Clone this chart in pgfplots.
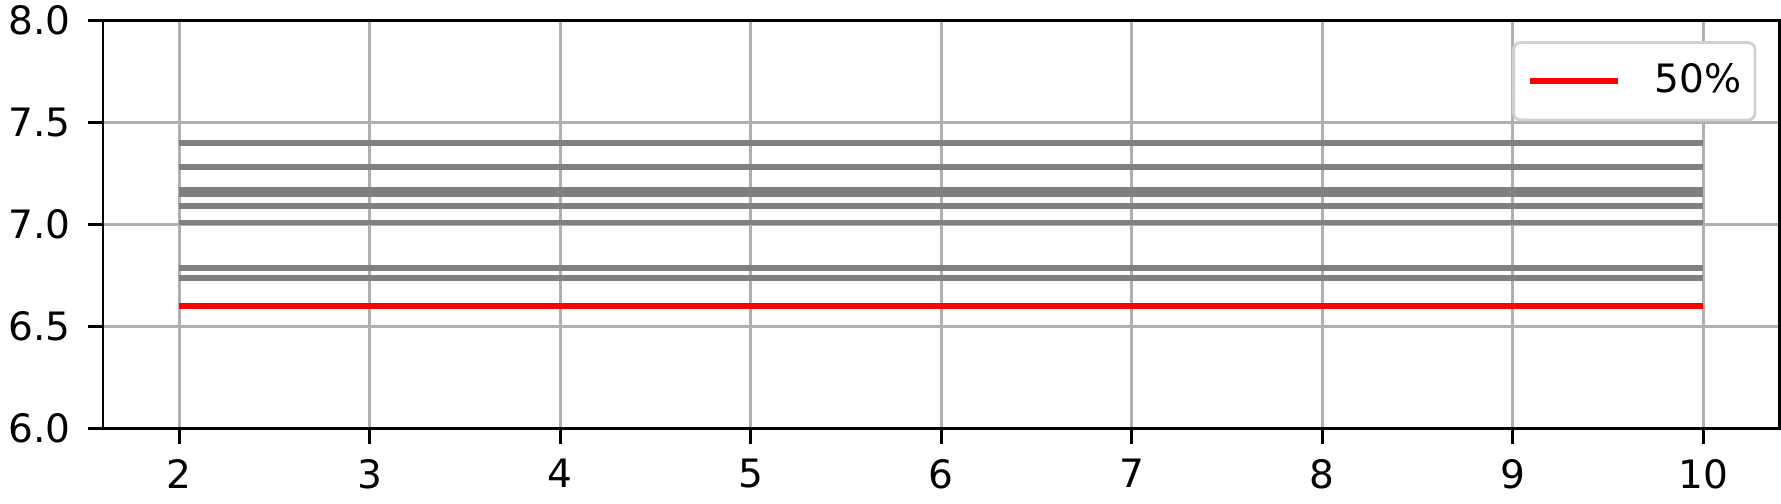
\documentclass[border=0pt]{standalone}
\usepackage{fontspec}
\setmainfont{DejaVu Sans}
\usepackage{pgfplots}
\pgfplotsset{compat=1.18}
\begin{document}
\fontsize{11}{13}\selectfont
\begin{tikzpicture}
\begin{axis}[
  scale only axis,
  width=471.8pt, height=114.9pt,
  xmin=1.6, xmax=10.4, ymin=6, ymax=8,
  xtick={2,3,...,10},
  ytick={6,6.5,7,7.5,8},
  yticklabel style={inner ysep=1.6pt, inner xsep=2.4pt, xshift=-2.3pt, /pgf/number format/fixed, /pgf/number format/fixed zerofill, /pgf/number format/precision=1},
  xticklabel style={inner ysep=4.2pt},
  /pgf/number format/assume math mode=true,
  tick label style={font=\fontsize{11}{13}\selectfont},
  tick align=outside,
  xtick pos=bottom, ytick pos=left,
  major tick length=4.2pt,
  tick style={black, line width=0.8pt},
  axis line style={black, line width=0.8pt},
  grid=major,
  major grid style={color=black!31, line width=0.8pt},
  legend style={at={(rel axis cs:1,1)}, anchor=north east, xshift=-6.5pt, yshift=-5.8pt,
    draw=black!18, line width=0.8pt, rounded corners=2pt, font=\fontsize{11}{13}\selectfont,
    inner xsep=3.9pt, inner ysep=6pt, nodes={inner sep=0pt},
    /tikz/every odd column/.append style={column sep=9.3pt}},
  legend cell align=left,
  legend image code/.code={\draw[#1] (0pt,0pt) -- (24.8pt,0pt);},
]
\addplot[color=black!50, line width=1.6pt, forget plot] coordinates {(2,7.400) (10,7.400)};
\addplot[color=black!50, line width=1.6pt, forget plot] coordinates {(2,7.282) (10,7.282)};
\addplot[color=black!50, line width=1.6pt, forget plot] coordinates {(2,7.172) (10,7.172)};
\addplot[color=black!50, line width=1.6pt, forget plot] coordinates {(2,7.151) (10,7.151)};
\addplot[color=black!50, line width=1.6pt, forget plot] coordinates {(2,7.090) (10,7.090)};
\addplot[color=black!50, line width=1.6pt, forget plot] coordinates {(2,7.011) (10,7.011)};
\addplot[color=black!50, line width=1.6pt, forget plot] coordinates {(2,6.786) (10,6.786)};
\addplot[color=black!50, line width=1.6pt, forget plot] coordinates {(2,6.738) (10,6.738)};
\addplot[color=red, line width=1.6pt] coordinates {(2,6.6) (10,6.6)};
\addlegendentry{50\%\hspace{1.7pt}}
\end{axis}
\end{tikzpicture}
\end{document}
